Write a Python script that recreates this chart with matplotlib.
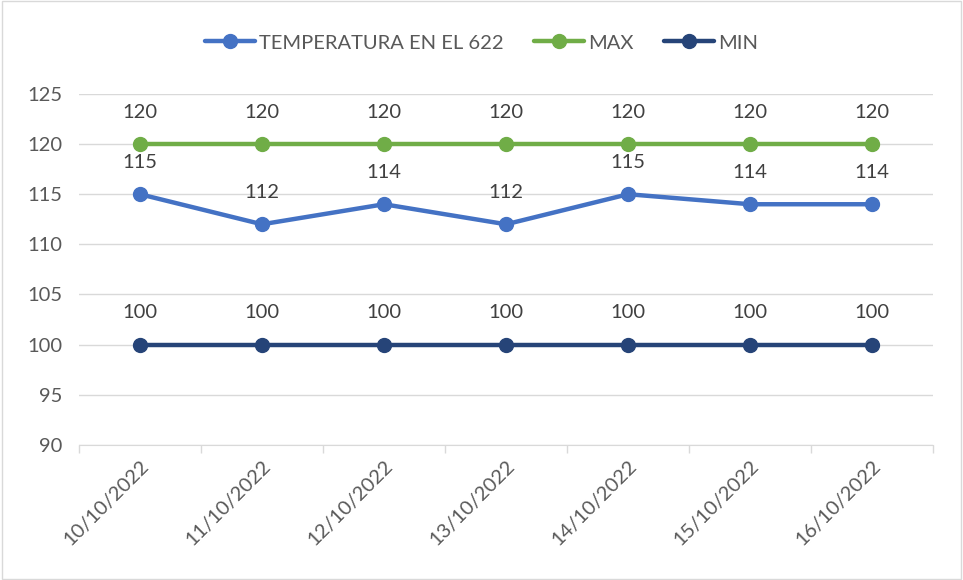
import matplotlib.pyplot as plt
from matplotlib.patches import Rectangle

fechas = ['10/10/2022', '11/10/2022', '12/10/2022', '13/10/2022',
          '14/10/2022', '15/10/2022', '16/10/2022']
temperatura = [115, 112, 114, 112, 115, 114, 114]
maximo = [120, 120, 120, 120, 120, 120, 120]
minimo = [100, 100, 100, 100, 100, 100, 100]

plt.rcParams['font.family'] = ['Lato', 'DejaVu Sans']
gris = '#595959'
fs = 14.5

fig = plt.figure(figsize=(9.63, 5.8), dpi=100)
ax = fig.add_axes([0.082, 0.233, 0.887, 0.605])
fig.patches.append(Rectangle((0.002, 0.002), 0.996, 0.996, transform=fig.transFigure,
                             fill=False, edgecolor='#D9D9D9', linewidth=1))

x = range(len(fechas))
series = [(temperatura, '#4472C4', 'TEMPERATURA EN EL 622'),
          (maximo, '#70AD47', 'MAX'),
          (minimo, '#264478', 'MIN')]
for vals, color, nombre in series:
    ax.plot(x, vals, color=color, linewidth=3.2, marker='o', markersize=10,
            label=nombre, solid_capstyle='round', zorder=3)
    for xi, v in zip(x, vals):
        ax.annotate(str(v), (xi, v), xytext=(0, 23), textcoords='offset points',
                    ha='center', va='center', fontsize=fs, color='#404040')

ax.set_ylim(90, 125)
ax.set_yticks(range(90, 126, 5))
ax.set_xlim(-0.5, len(fechas) - 0.5)
ax.set_xticks([i - 0.5 for i in range(len(fechas) + 1)], minor=False)
ax.set_xticklabels([])
ax.set_xticks(list(x), minor=True)
ax.set_xticklabels(fechas, minor=True, rotation=45, ha='right', rotation_mode='anchor',
                   fontsize=fs, color=gris)
ax.tick_params(axis='x', which='major', length=6, color='#D9D9D9', width=1)
ax.tick_params(axis='x', which='minor', length=0, pad=9)
ax.tick_params(axis='y', length=0, labelsize=fs, labelcolor=gris, pad=12)
ax.grid(axis='y', color='#D9D9D9', linewidth=1)
ax.set_axisbelow(True)
for s in ['top', 'right', 'left']:
    ax.spines[s].set_visible(False)
ax.spines['bottom'].set_color('#D9D9D9')

leg = ax.legend(loc='center', ncol=3, frameon=False, fontsize=fs, handlelength=2.5,
                columnspacing=1.5, handletextpad=0.2)
leg.set_bbox_to_anchor((0.5, 1 - 43 / 580), transform=fig.transFigure)
for t in leg.get_texts():
    t.set_color(gris)

fig.savefig('out.png', dpi=100)
